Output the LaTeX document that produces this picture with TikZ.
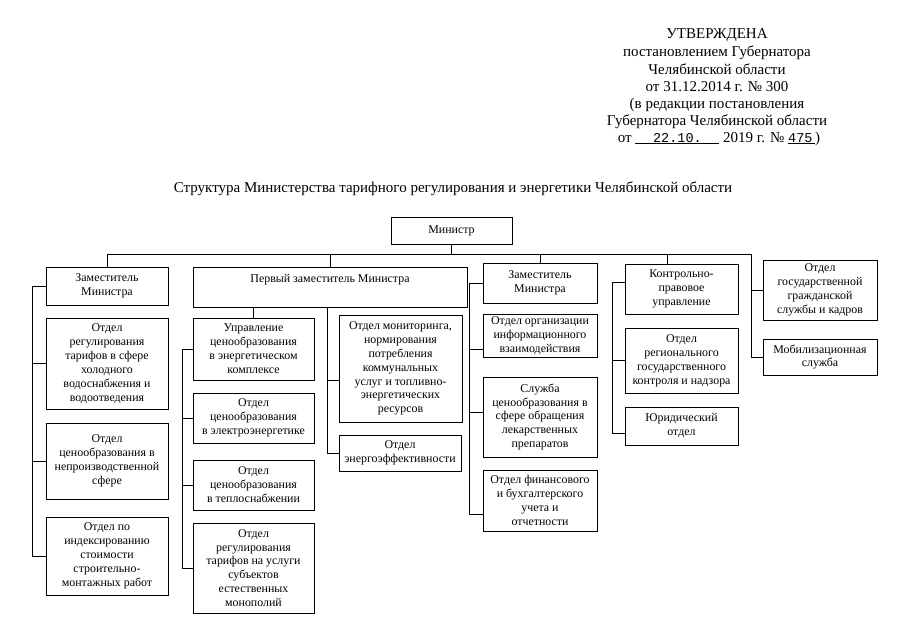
\documentclass[tikz,border=0pt]{standalone}
\usepackage{fontspec}
\setmainfont{Liberation Serif}
\newfontfamily\monofnt{Liberation Mono}
\tikzset{
  box/.style={draw, line width=0.9pt, align=center, inner sep=1.5pt,
    font=\fontsize{11.9}{13.9}\selectfont},
  conn/.style={draw, line width=0.8pt},
  hdr/.style={anchor=base, font=\fontsize{15}{17}\selectfont, inner sep=0pt}
}
\newcommand{\bx}[6]{\node[box, minimum width={#4-#2}, minimum height={#5-#3}] (#1) at ({(#2+#4)/2},{(#3+#5)/2}) {#6};}
\begin{document}
\begin{tikzpicture}[x=1pt,y=-1pt]
\useasboundingbox[fill=white] (0,0) rectangle (905,640);
% header
\node[hdr] (h1) at (717,38) {УТВЕРЖДЕНА};
\node[hdr] (h2) at (717,56) {постановлением Губернатора};
\node[hdr] (h3) at (717,74) {Челябинской области};
\node[hdr] (h4) at (717,91) {от 31.12.2014 г. № 300};
\node[hdr] (h5) at (717,108) {(в редакции постановления};
\node[hdr] (h6) at (717,125) {Губернатора Челябинской области};
\node[hdr] (h7) at (719,142) {от \underline{\makebox[84pt]{\monofnt\fontsize{13.5}{15}\selectfont 22.10.}} 2019 г. № \underline{\makebox[27pt][l]{\monofnt\fontsize{13.5}{15}\selectfont 475}})};
% title
\node[hdr] (title) at (453,192) {Структура Министерства тарифного регулирования и энергетики Челябинской области};
% boxes
\bx{min}{391}{217}{512}{244}{Министр}
% column 1
\bx{zam1}{46}{267}{168}{305}{Заместитель\\Министра}
\bx{c1b}{46}{318}{168}{409}{Отдел\\регулирования\\тарифов в сфере\\холодного\\водоснабжения и\\водоотведения}
\bx{c1c}{46}{423}{168}{499}{Отдел\\ценообразования в\\непроизводственной\\сфере}
\bx{c1d}{46}{517}{168}{595}{Отдел по\\индексированию\\стоимости\\строительно-\\монтажных работ}
% column 2
\bx{perv}{193}{267}{467}{307}{Первый заместитель Министра\\\strut}
\bx{upr}{193}{318}{314}{380}{Управление\\ценообразования\\в энергетическом\\комплексе}
\bx{c2b}{193}{393}{314}{443}{Отдел\\ценообразования\\в электроэнергетике}
\bx{c2c}{193}{460}{314}{510}{Отдел\\ценообразования\\в теплоснабжении}
\bx{c2d}{193}{523}{314}{613}{Отдел\\регулирования\\тарифов на услуги\\субъектов\\естественных\\монополий}
\bx{mon}{339}{315}{462}{422}{Отдел мониторинга,\\нормирования\\потребления\\коммунальных\\услуг и топливно-\\энергетических\\ресурсов}
\bx{enr}{339}{435}{461}{471}{Отдел\\энергоэффективности}
% column 3
\bx{zam3}{483}{263}{597}{303}{Заместитель\\Министра}
\bx{org}{483}{314}{597}{357}{Отдел организации\\информационного\\взаимодействия}
\bx{sl}{483}{377}{597}{457}{Служба\\ценообразования в\\сфере обращения\\лекарственных\\препаратов}
\bx{fin}{483}{470}{597}{531}{Отдел финансового\\и бухгалтерского\\учета и\\отчетности}
% column 4
\bx{kontr}{625}{264}{738}{314}{Контрольно-\\правовое\\управление}
\bx{reg}{625}{328}{738}{393}{Отдел\\регионального\\государственного\\контроля и надзора}
\bx{jur}{625}{407}{738}{445}{Юридический\\отдел}
% column 5
\bx{gos}{763}{260}{877}{320}{Отдел\\государственной\\гражданской\\службы и кадров}
\bx{mob}{763}{339}{877}{375}{Мобилизационная\\служба}
% bus
\coordinate (busL) at (107,254);
\coordinate (busR) at (751,254);
\coordinate (kdrop) at (667,254);
\draw[conn] (min.south) -- (min.south |- busL);
\draw[conn] (zam1.north) -- (zam1.north |- busL) -- (busR) -- (busR |- mob.west) -- (mob.west);
\draw[conn] (busR |- gos.west) -- (gos.west);
\draw[conn] (perv.north) -- (perv.north |- busL);
\draw[conn] (zam3.north) -- (zam3.north |- busL);
\draw[conn] (kdrop) -- (kdrop |- kontr.north);
% column 1 links
\draw[conn] (zam1.west) -- ++(-13,0) |- (c1d.west);
\draw[conn] ([xshift=-13pt]c1b.west) -- (c1b.west);
\draw[conn] ([xshift=-13pt]c1c.west) -- (c1c.west);
% column 2 links
\draw[conn] (upr.north) -- (upr.north |- perv.south);
\draw[conn] (upr.west) -- ++(-10,0) |- (c2d.west);
\draw[conn] ([xshift=-10pt]c2b.west) -- (c2b.west);
\draw[conn] ([xshift=-10pt]c2c.west) -- (c2c.west);
\draw[conn] ([xshift=-3pt]perv.south) |- (enr.west);
\draw[conn] ([xshift=-3pt,yshift=-12pt]perv.south |- mon.west) -- ([yshift=-12pt]mon.west);
% column 3 links
\draw[conn] (zam3.west) -- ++(-13,0) |- ([yshift=-14pt]fin.west);
\draw[conn] ([xshift=-13pt,yshift=-14pt]org.west) -- ([yshift=-14pt]org.west);
\draw[conn] ([xshift=-13pt,yshift=5pt]sl.west) -- ([yshift=5pt]sl.west);
% column 4 links
\draw[conn] ([yshift=7pt]kontr.west) -- ++(-12,0) |- ([yshift=-7pt]jur.west);
\draw[conn] ([xshift=-12pt]reg.west) -- (reg.west);
\end{tikzpicture}
\end{document}
